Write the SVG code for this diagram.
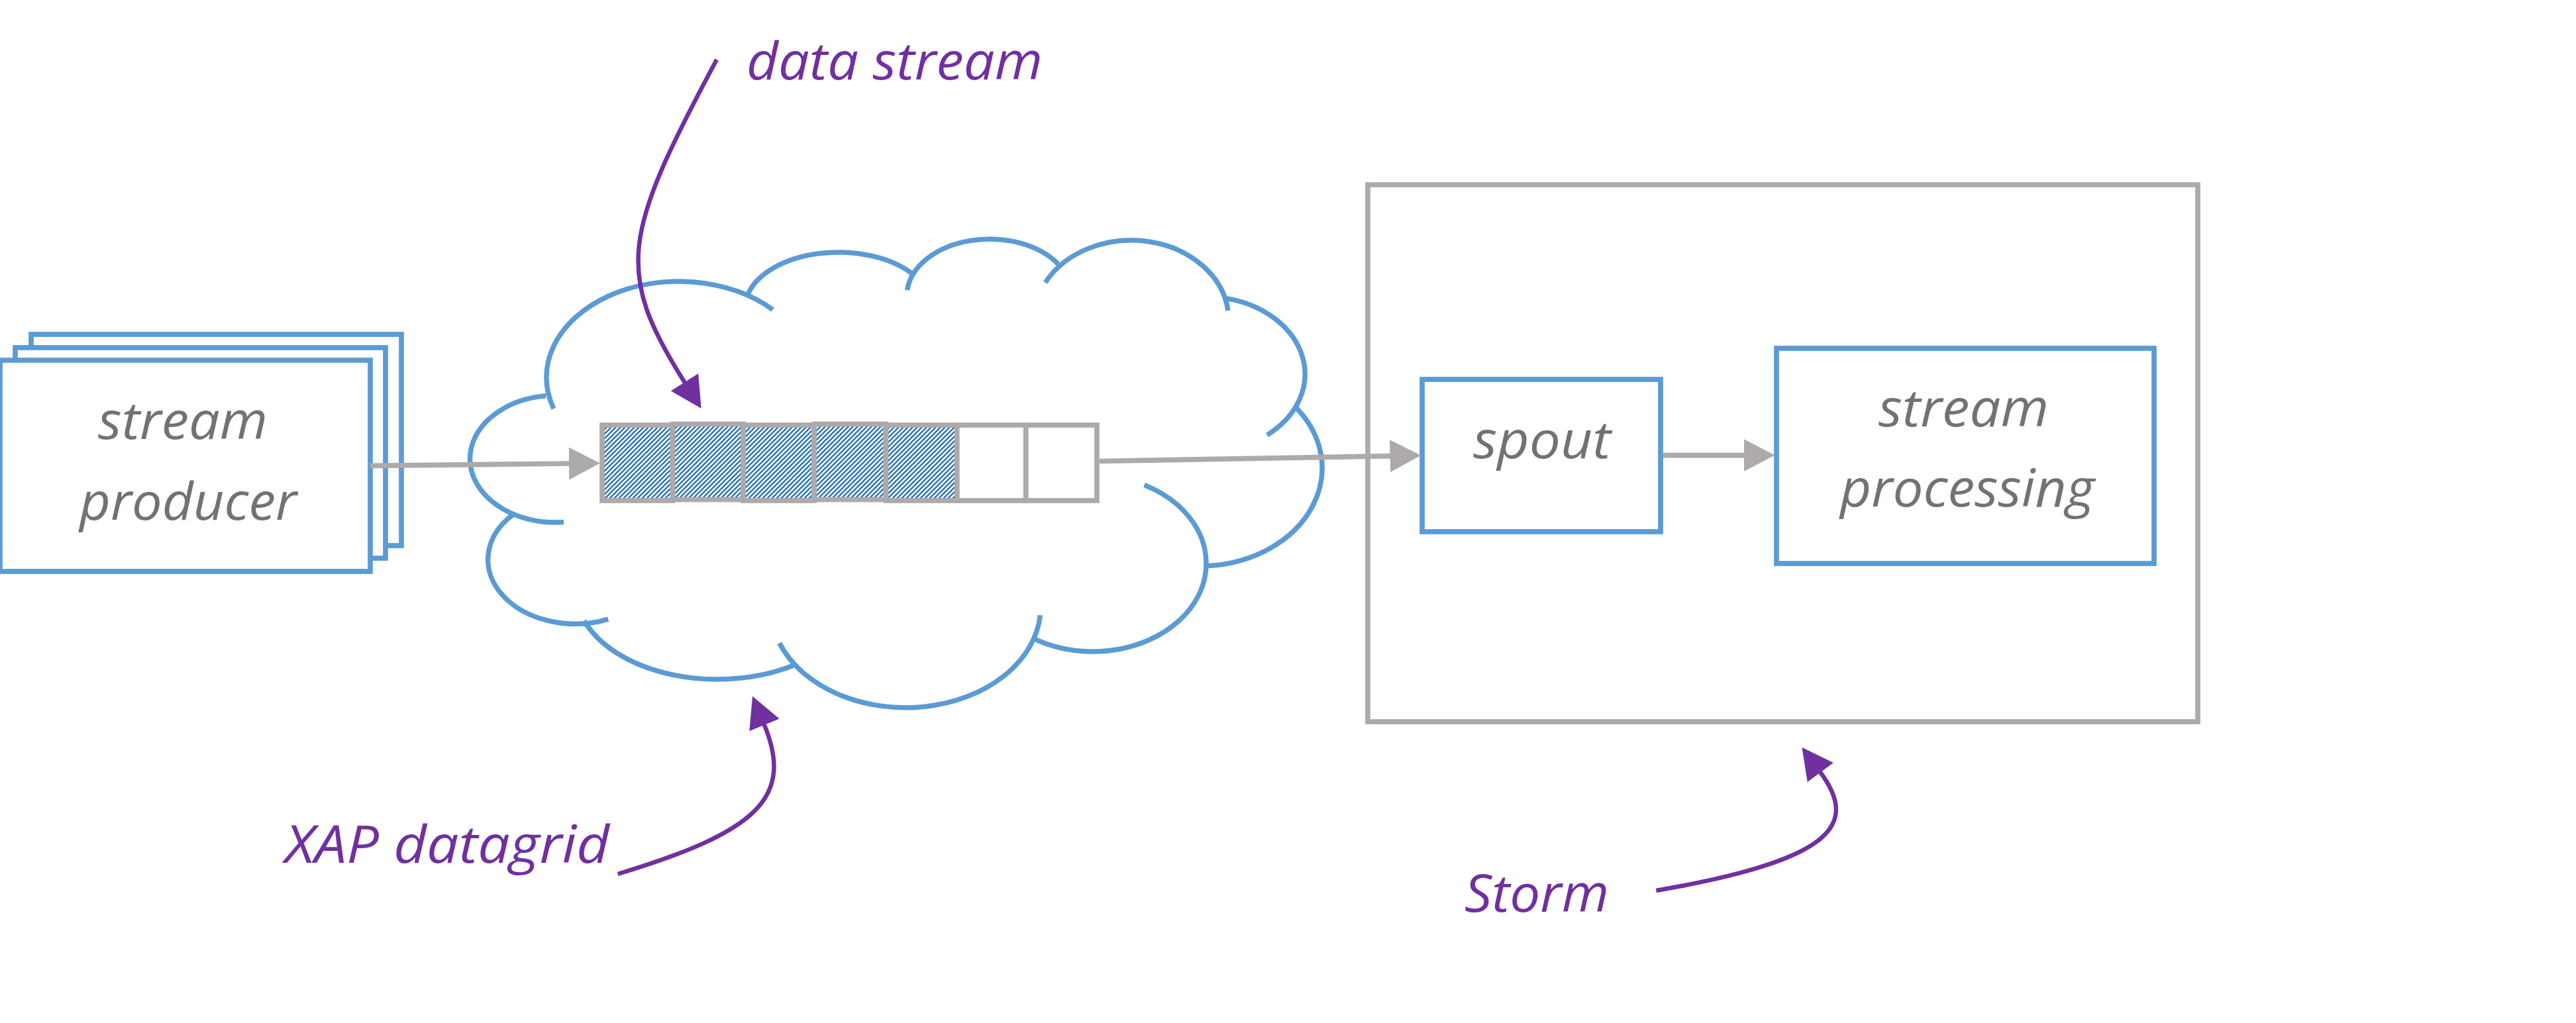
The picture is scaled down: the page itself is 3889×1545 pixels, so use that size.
<svg xmlns="http://www.w3.org/2000/svg" width="3889" height="1545" viewBox="0 0 3889 1545">
<style>
.box{fill:#ffffff;stroke:#5B9BD5;stroke-width:7.7}
.gbox{fill:none;stroke:#AEAAAA;stroke-width:7.7}
.cell{stroke:#AEAAAA;stroke-width:7.7}
.cloud{fill:none;stroke:#5B9BD5;stroke-width:7.5}
.conn{fill:none;stroke:#AEAAAA;stroke-width:7.7}
.pconn{fill:none;stroke:#7030A0;stroke-width:6.5}
.lbl{font-family:"Open Sans","Noto Sans","Liberation Sans",sans-serif;font-style:italic;font-size:79px;fill:#767171}
.note{font-family:"Open Sans","Noto Sans","Liberation Sans",sans-serif;font-style:italic;font-size:79px;fill:#7030A0}
</style>
<defs>
<pattern id="hatch" patternUnits="userSpaceOnUse" width="7" height="7">
<rect width="7" height="7" fill="#ffffff"/>
<path d="M-1.75,1.75 L1.75,-1.75 M0,7 L7,0 M5.25,8.75 L8.75,5.25" stroke="#2E75B6" stroke-width="2.5"/>
</pattern>
<marker id="ahg" viewBox="0 0 47 49" refX="1" refY="24.5" markerWidth="47" markerHeight="49" markerUnits="userSpaceOnUse" orient="auto">
<path d="M0,0 L47,24.5 L0,49 Z" fill="#AEAAAA"/>
</marker>
<marker id="ahp" viewBox="0 0 47 49" refX="1" refY="24.5" markerWidth="47" markerHeight="49" markerUnits="userSpaceOnUse" orient="auto">
<path d="M0,0 L47,24.5 L0,49 Z" fill="#7030A0"/>
</marker>
</defs>
<rect x="0" y="0" width="3889" height="1545" fill="#ffffff"/>

<g id="xap-datagrid-cloud">
<path class="cloud" d="M835.9,617.3 A200,145 0 0 1 1166.6,467.6"/>
<path class="cloud" d="M824.2,597.7 A129.5,96 0 0 0 709.5,693 A129.5,96 0 0 0 851,788.6"/>
<path class="cloud" d="M776.3,775.9 A132,97 0 0 0 918.2,935.1"/>
<path class="cloud" d="M882,937.5 A214,135 0 0 0 1200.7,1003.7"/>
<path class="cloud" d="M1176.7,971.3 A204,152 0 0 0 1570.4,929.2"/>
<path class="cloud" d="M1559.5,963.8 A171,133 0 0 0 1821,851 A171,133 0 0 0 1727.6,732.5"/>
<path class="cloud" d="M1824,854.6 A185,148 0 0 0 1954.2,613.2"/>
<path class="cloud" d="M1912.9,657 A150,117 0 0 0 1851.2,450.6"/>
<path class="cloud" d="M1854,469 A147,120 0 0 0 1578.1,426.8"/>
<path class="cloud" d="M1597.5,398.8 A125,86 0 0 0 1369.7,438.1"/>
<path class="cloud" d="M1380.4,416 A141,84 0 0 0 1128.9,445.2"/>
</g>

<g id="stream-producer">
<rect class="box" x="47" y="505" width="559" height="319"/>
<rect class="box" x="23" y="525" width="559" height="318"/>
<rect class="box" x="0" y="544" width="559" height="319"/>
<text class="lbl" x="148" y="663" textLength="256" lengthAdjust="spacingAndGlyphs">stream</text>
<text class="lbl" x="120" y="785" textLength="328" lengthAdjust="spacingAndGlyphs">producer</text>
</g>

<g id="data-stream-queue">
<rect class="cell" fill="url(#hatch)" x="909" y="642" width="106.5" height="114"/>
<rect class="cell" fill="url(#hatch)" x="1015.5" y="640.5" width="106.7" height="114"/>
<rect class="cell" fill="url(#hatch)" x="1122.2" y="642" width="106.8" height="114"/>
<rect class="cell" fill="url(#hatch)" x="1229" y="640.5" width="108.5" height="114"/>
<rect class="cell" fill="url(#hatch)" x="1337.5" y="642" width="107.3" height="114"/>
<rect class="cell" fill="#ffffff" x="1444.8" y="642" width="104" height="114"/>
<rect class="cell" fill="#ffffff" x="1548.8" y="642" width="107.2" height="114"/>
</g>

<g id="storm">
<rect class="gbox" x="2065" y="279" width="1253" height="811"/>
</g>

<g id="spout">
<rect class="box" x="2147" y="573" width="360" height="230"/>
<text class="lbl" x="2224" y="692" textLength="208" lengthAdjust="spacingAndGlyphs">spout</text>
</g>

<g id="stream-processing">
<rect class="box" x="2682" y="526" width="570" height="325"/>
<text class="lbl" x="2836" y="644" textLength="257" lengthAdjust="spacingAndGlyphs">stream</text>
<text class="lbl" x="2778" y="765" textLength="384" lengthAdjust="spacingAndGlyphs">processing</text>
</g>

<g id="connectors">
<path class="conn" marker-end="url(#ahg)" d="M559,703.3 L860,700"/>
<path class="conn" marker-end="url(#ahg)" d="M1660,696.5 L2099.4,688.6"/>
<path class="conn" marker-end="url(#ahg)" d="M2511,687.6 L2633.5,687.6"/>
<path class="pconn" marker-end="url(#ahp)" d="M1082,90 C941,354 926.8,409 1034,578"/>
<path class="pconn" marker-end="url(#ahp)" d="M932.7,1320 C1143.2,1256.2 1199.4,1204.9 1153.6,1094"/>
<path class="pconn" marker-end="url(#ahp)" d="M2500.4,1345 C2776.5,1297.7 2804.3,1242.1 2747.8,1165.8"/>
</g>

<g id="annotations">
<text class="note" x="1127" y="120" textLength="447" lengthAdjust="spacingAndGlyphs">data stream</text>
<text class="note" x="430" y="1303" textLength="490" lengthAdjust="spacingAndGlyphs">XAP datagrid</text>
<text class="note" x="2211" y="1377" textLength="218" lengthAdjust="spacingAndGlyphs">Storm</text>
</g>
</svg>
